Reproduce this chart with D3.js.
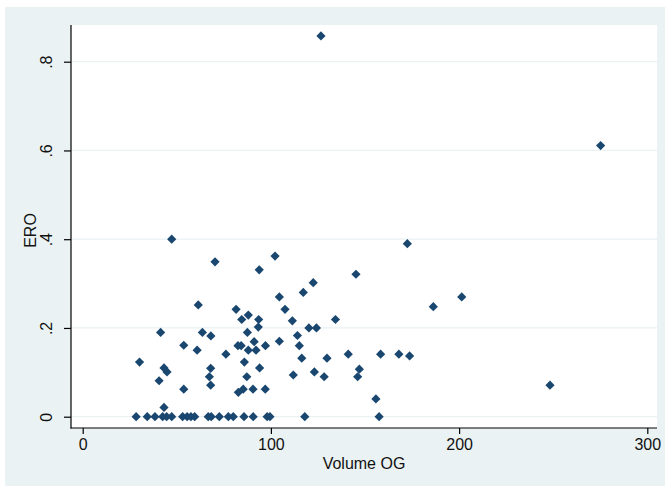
<!DOCTYPE html>
<html>
<head>
<meta charset="utf-8">
<script src="https://cdn.jsdelivr.net/npm/d3@7"></script>
<style>
  html, body { margin: 0; padding: 0; background: #ffffff; }
  svg { display: block; }
  text { font-family: "Liberation Sans", Arial, sans-serif; fill: #111; }
</style>
</head>
<body>
<script>
// ---- data ----
const volumeOG = [
  126.6, 275.2, 47.3, 172.5, 102.2, 70.3, 93.8, 145.2, 122.5, 117.2,
  104.5, 201.4, 61.4, 186.3, 81.5, 107.5, 88.0, 84.5, 93.5, 134.3,
  111.4, 93.3, 120.2, 124.2, 41.4, 63.6, 87.5, 68.1, 114.1, 91.1,
  104.5, 53.7, 82.5, 84.2, 97.1, 115.1, 60.8, 88.0, 92.1, 76.1,
  141.1, 158.3, 168.0, 173.7, 116.4, 129.8, 30.2, 85.9, 43.2, 68.0,
  94.0, 147.0, 44.8, 123.1, 111.9, 67.3, 87.2, 128.3, 146.1, 40.6,
  68.0, 248.3, 53.7, 85.3, 90.5, 97.0, 82.7, 155.8, 43.2,
  28.4, 34.3, 38.4, 42.5, 44.6, 47.3, 53.1, 55.5, 57.5, 59.5,
  66.7, 68.3, 72.6, 77.4, 80.0, 85.7, 90.6, 98.0, 99.5, 118.0, 157.5
];
const ero = [
  0.858, 0.611, 0.400, 0.390, 0.362, 0.349, 0.331, 0.321, 0.302, 0.280,
  0.270, 0.270, 0.252, 0.248, 0.242, 0.242, 0.229, 0.219, 0.219, 0.219,
  0.216, 0.202, 0.200, 0.200, 0.190, 0.190, 0.190, 0.182, 0.183, 0.169,
  0.170, 0.161, 0.160, 0.160, 0.160, 0.160, 0.150, 0.150, 0.150, 0.141,
  0.141, 0.141, 0.141, 0.137, 0.132, 0.132, 0.123, 0.123, 0.110, 0.109,
  0.110, 0.107, 0.101, 0.101, 0.094, 0.090, 0.090, 0.090, 0.090, 0.081,
  0.071, 0.071, 0.062, 0.062, 0.062, 0.062, 0.055, 0.040, 0.021,
  0, 0, 0, 0, 0, 0, 0, 0, 0, 0,
  0, 0, 0, 0, 0, 0, 0, 0, 0, 0, 0
];
const xTicks = [0, 100, 200, 300];
const xTickLabels = ["0", "100", "200", "300"];
const yTicks = [0, 0.2, 0.4, 0.6, 0.8];
const yTickLabels = ["0", ".2", ".4", ".6", ".8"];
const xTitle = "Volume OG";
const yTitle = "ERO";

// ---- layout ----
const W = 665, H = 488;
const plot = { left: 71, right: 657, top: 25, bottom: 428 };
const markerColor = "#1a476f";
const bgColor = "#eaf2f3";
const fontSize = 16;

const x = d3.scaleLinear().domain([0, 300]).range([82.7, 647.3]);
const y = d3.scaleLinear().domain([0, 0.8]).range([416.7, 61.7]);

const svg = d3.select("body").append("svg")
  .attr("width", W).attr("height", H);

// graph region
svg.append("rect").attr("x", 5).attr("y", 7)
  .attr("width", W - 5).attr("height", 486 - 7)
  .attr("fill", bgColor);

// plot region
svg.append("rect")
  .attr("x", plot.left).attr("y", plot.top)
  .attr("width", plot.right - plot.left).attr("height", plot.bottom - plot.top)
  .attr("fill", "#ffffff");

// gridlines
svg.append("g").selectAll("line").data(yTicks).join("line")
  .attr("x1", plot.left).attr("x2", plot.right)
  .attr("y1", d => y(d)).attr("y2", d => y(d))
  .attr("stroke", bgColor).attr("stroke-width", 1.2);

// y axis
const yAxis = d3.axisLeft(y).tickValues(yTicks)
  .tickFormat((d, i) => yTickLabels[i]).tickSize(7).tickPadding(12);
const gy = svg.append("g").attr("transform", `translate(${plot.left},0)`).call(yAxis);
gy.select(".domain").remove();
gy.append("line").attr("x1", 0).attr("x2", 0)
  .attr("y1", plot.top).attr("y2", plot.bottom + 0.5)
  .attr("stroke", "#000").attr("stroke-width", 1.2);
gy.selectAll(".tick line").attr("stroke", "#000").attr("stroke-width", 1.2);
gy.selectAll(".tick text")
  .attr("font-size", fontSize).attr("fill", "#111")
  .attr("text-anchor", "middle")
  .attr("x", 0).attr("dy", 0)
  .attr("transform", "translate(-25,0) rotate(-90)")
  .attr("y", 5.5);

// x axis
const xAxis = d3.axisBottom(x).tickValues(xTicks)
  .tickFormat((d, i) => xTickLabels[i]).tickSize(6).tickPadding(5);
const gx = svg.append("g").attr("transform", `translate(0,${plot.bottom})`).call(xAxis);
gx.select(".domain").remove();
gx.append("line").attr("x1", plot.left - 0.5).attr("x2", plot.right)
  .attr("y1", 0).attr("y2", 0)
  .attr("stroke", "#000").attr("stroke-width", 1.2);
gx.selectAll(".tick line").attr("stroke", "#000").attr("stroke-width", 1.2);
gx.selectAll(".tick text").attr("font-size", fontSize).attr("fill", "#111");

// axis titles
svg.append("text").attr("x", (plot.left + plot.right) / 2).attr("y", 469)
  .attr("text-anchor", "middle").attr("font-size", fontSize).text(xTitle);
svg.append("text")
  .attr("transform", `translate(36,${(plot.top + plot.bottom) / 2 + 4}) rotate(-90)`)
  .attr("text-anchor", "middle").attr("font-size", fontSize).text(yTitle);

// markers (square rotated 45deg)
const r = 4.6;
const diamond = `M0,${-r}L${r},0L0,${r}L${-r},0Z`;
svg.append("g").selectAll("path").data(volumeOG.map((v, i) => [v, ero[i]])).join("path")
  .attr("transform", d => `translate(${x(d[0])},${y(d[1])})`)
  .attr("d", diamond)
  .attr("fill", markerColor);
</script>
</body>
</html>
